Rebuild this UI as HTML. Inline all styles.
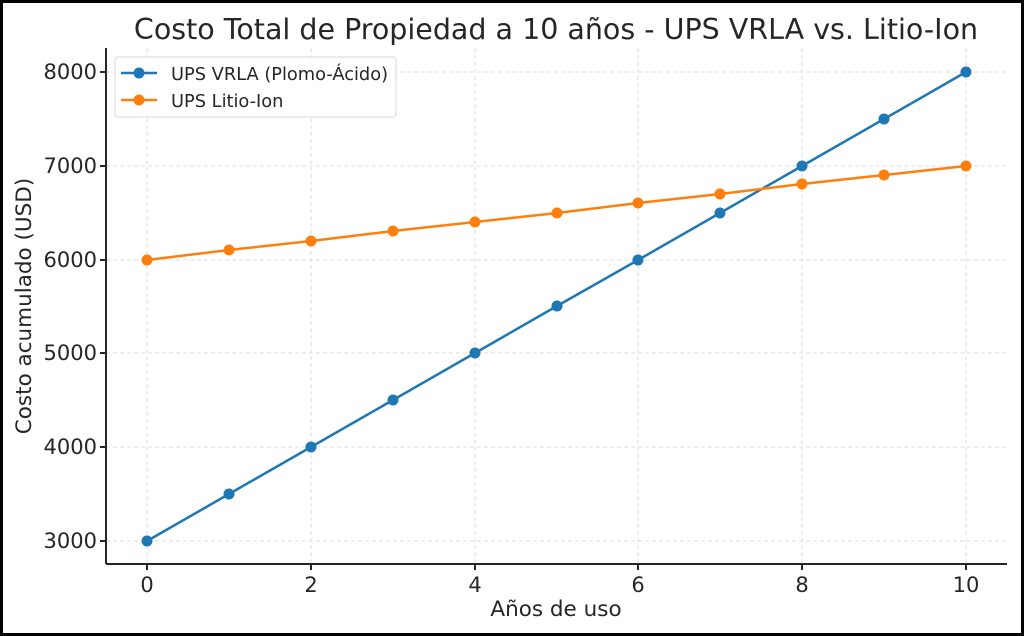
<!DOCTYPE html>
<html><head><meta charset="utf-8"><style>
html,body{margin:0;padding:0;background:#fff}
svg{display:block}
text{font-family:"DejaVu Sans","Liberation Sans",sans-serif;fill:#262626}
</style></head><body>
<svg width="1024" height="636" xmlns="http://www.w3.org/2000/svg">
<rect x="1.5" y="1.5" width="1021" height="633" fill="#fff" stroke="#000" stroke-width="3"/>
<text x="556" y="39" font-size="28.5" text-anchor="middle" fill="#333">Costo Total de Propiedad a 10 años - UPS VRLA vs. Litio-Ion</text>
<g stroke="#dcdcdc" stroke-dasharray="4,3" stroke-width="1">
<line x1="147" y1="48" x2="147" y2="564"/><line x1="311" y1="48" x2="311" y2="564"/>
<line x1="475" y1="48" x2="475" y2="564"/><line x1="638" y1="48" x2="638" y2="564"/>
<line x1="802" y1="48" x2="802" y2="564"/><line x1="966" y1="48" x2="966" y2="564"/>
<line x1="106" y1="72" x2="1007" y2="72"/><line x1="106" y1="166" x2="1007" y2="166"/>
<line x1="106" y1="260" x2="1007" y2="260"/><line x1="106" y1="353" x2="1007" y2="353"/>
<line x1="106" y1="447" x2="1007" y2="447"/><line x1="106" y1="541" x2="1007" y2="541"/>
</g>
<g stroke="#262626" stroke-width="2">
<line x1="106" y1="48" x2="106" y2="564"/><line x1="106" y1="564" x2="1007" y2="564"/>
<line x1="100" y1="72" x2="106" y2="72"/><line x1="100" y1="166" x2="106" y2="166"/>
<line x1="100" y1="260" x2="106" y2="260"/><line x1="100" y1="353" x2="106" y2="353"/>
<line x1="100" y1="447" x2="106" y2="447"/><line x1="100" y1="541" x2="106" y2="541"/>
<line x1="147" y1="564" x2="147" y2="570"/><line x1="311" y1="564" x2="311" y2="570"/>
<line x1="475" y1="564" x2="475" y2="570"/><line x1="638" y1="564" x2="638" y2="570"/>
<line x1="802" y1="564" x2="802" y2="570"/><line x1="966" y1="564" x2="966" y2="570"/>
</g>
<g font-size="21" text-anchor="end">
<text x="97" y="79">8000</text><text x="97" y="173">7000</text><text x="97" y="267">6000</text>
<text x="97" y="360">5000</text><text x="97" y="454">4000</text><text x="97" y="548">3000</text>
</g>
<g font-size="21" text-anchor="middle">
<text x="147" y="592">0</text><text x="311" y="592">2</text><text x="475" y="592">4</text>
<text x="638" y="592">6</text><text x="802" y="592">8</text><text x="966" y="592">10</text>
</g>
<text x="556" y="616" font-size="21.5" text-anchor="middle">Años de uso</text>
<text transform="translate(31,306) rotate(-90)" font-size="21.5" text-anchor="middle">Costo acumulado (USD)</text>
<polyline fill="none" stroke="#1f77b4" stroke-width="2.5" points="147,541 229,494 311,447 393,400 475,353 557,306 638,260 720,213 802,166 884,119 966,72"/>
<polyline fill="none" stroke="#ff7f0e" stroke-width="2.5" points="147,260 229,250 311,241 393,231 475,222 557,213 638,203 720,194 802,184 884,175 966,166"/>
<g fill="#1f77b4"><circle cx="147" cy="541" r="5.5"/><circle cx="229" cy="494" r="5.5"/><circle cx="311" cy="447" r="5.5"/><circle cx="393" cy="400" r="5.5"/><circle cx="475" cy="353" r="5.5"/><circle cx="557" cy="306" r="5.5"/><circle cx="638" cy="260" r="5.5"/><circle cx="720" cy="213" r="5.5"/><circle cx="802" cy="166" r="5.5"/><circle cx="884" cy="119" r="5.5"/><circle cx="966" cy="72" r="5.5"/></g>
<g fill="#ff7f0e"><circle cx="147" cy="260" r="5.5"/><circle cx="229" cy="250" r="5.5"/><circle cx="311" cy="241" r="5.5"/><circle cx="393" cy="231" r="5.5"/><circle cx="475" cy="222" r="5.5"/><circle cx="557" cy="213" r="5.5"/><circle cx="638" cy="203" r="5.5"/><circle cx="720" cy="194" r="5.5"/><circle cx="802" cy="184" r="5.5"/><circle cx="884" cy="175" r="5.5"/><circle cx="966" cy="166" r="5.5"/></g>
<rect x="115" y="57" width="281" height="60" rx="3" fill="#fff" fill-opacity="0.85" stroke="#d8d8d8"/>
<line x1="121" y1="73" x2="157" y2="73" stroke="#1f77b4" stroke-width="2.5"/><circle cx="139" cy="73" r="5.5" fill="#1f77b4"/>
<line x1="121" y1="100" x2="157" y2="100" stroke="#ff7f0e" stroke-width="2.5"/><circle cx="139" cy="100" r="5.5" fill="#ff7f0e"/>
<text x="171" y="80" font-size="17.8">UPS VRLA (Plomo-Ácido)</text>
<text x="171" y="107" font-size="17.8">UPS Litio-Ion</text>
</svg>
</body></html>
